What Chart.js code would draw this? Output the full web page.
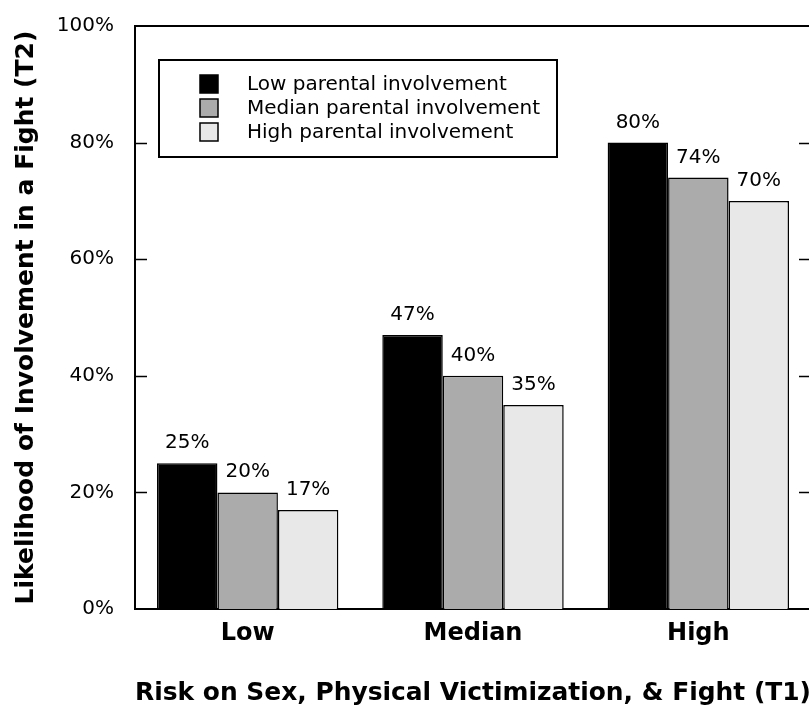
<!DOCTYPE html>
<html>
<head>
<meta charset="utf-8">
<script src="https://cdn.jsdelivr.net/npm/chart.js@4"></script>
<style>
  html, body { margin: 0; padding: 0; background: #fff; overflow: hidden; }
  #wrap { width: 815px; height: 708px; }
</style>
</head>
<body>
<div id="wrap"><canvas id="c" width="815" height="708"></canvas></div>
<script>
'use strict';

const categories = ['Low', 'Median', 'High'];
const lowInvolvement = [25, 47, 80];
const medianInvolvement = [20, 40, 74];
const highInvolvement = [17, 35, 70];
const seriesNames = ['Low parental involvement', 'Median parental involvement', 'High parental involvement'];
const seriesColors = ['#000000', '#ababab', '#e8e8e8'];
const yTicks = [0, 20, 40, 60, 80, 100];

const FONT = '"DejaVu Sans", "Liberation Sans", Arial, sans-serif';

// frame, inward tick marks, value labels and the boxed legend
const decor = {
    id: 'decor',
    afterDraw(chart) {
        const ctx = chart.ctx;
        const area = chart.chartArea;
        const y = chart.scales.y;
        ctx.save();
        ctx.strokeStyle = '#000';
        ctx.lineWidth = 2;
        ctx.beginPath();
        ctx.moveTo(area.left, area.top);
        ctx.lineTo(area.right, area.top);
        ctx.lineTo(area.right, area.bottom);
        ctx.stroke();

        ctx.lineWidth = 1.5;
        yTicks.slice(1, -1).forEach(v => {
            const py = Math.round(y.getPixelForValue(v)) + 0.5;
            ctx.beginPath();
            ctx.moveTo(area.left, py);
            ctx.lineTo(area.left + 12, py);
            ctx.moveTo(area.right, py);
            ctx.lineTo(area.right - 12, py);
            ctx.stroke();
        });

        ctx.fillStyle = '#000';
        ctx.font = '20px ' + FONT;
        ctx.textAlign = 'center';
        ctx.textBaseline = 'alphabetic';
        chart.data.datasets.forEach((ds, i) => {
            chart.getDatasetMeta(i).data.forEach((bar, j) => {
                ctx.fillText(ds.data[j] + '%', bar.x, bar.y - 15);
            });
        });

        // legend
        const lx = 159, ly = 60, lw = 398, lh = 97;
        ctx.fillStyle = '#fff';
        ctx.fillRect(lx, ly, lw, lh);
        ctx.lineWidth = 2;
        ctx.strokeRect(lx, ly, lw, lh);
        ctx.textAlign = 'left';
        ctx.textBaseline = 'middle';
        chart.data.datasets.forEach((ds, i) => {
            const cy = 84 + i * 24;
            ctx.fillStyle = ds.backgroundColor;
            ctx.fillRect(200, cy - 9, 18, 18);
            ctx.lineWidth = 1.5;
            ctx.strokeRect(200, cy - 9, 18, 18);
            ctx.fillStyle = '#000';
            ctx.fillText(ds.label, 247, cy + 1);
        });
        ctx.restore();
    }
};

const datasets = [lowInvolvement, medianInvolvement, highInvolvement].map((vals, i) => ({
    label: seriesNames[i],
    data: vals,
    backgroundColor: seriesColors[i],
    borderColor: '#000',
    borderWidth: 1.5,
    categoryPercentage: 0.805,
    barPercentage: 1.0
}));

new Chart(document.getElementById('c'), {
    type: 'bar',
    data: { labels: categories, datasets: datasets },
    plugins: [decor],
    options: {
        responsive: false,
        animation: false,
        layout: { padding: { top: 26, right: 4, left: 0, bottom: 0 } },
        plugins: { legend: { display: false }, tooltip: { enabled: false } },
        scales: {
            x: {
                grid: { display: false, drawTicks: false },
                border: { display: true, color: '#000', width: 2 },
                ticks: { color: '#000', font: { family: FONT, size: 24, weight: 'bold' }, padding: 10 },
                title: {
                    display: true,
                    text: 'Risk on Sex, Physical Victimization, & Fight (T1)',
                    color: '#000',
                    font: { family: FONT, size: 25, weight: 'bold' },
                    padding: { top: 0, bottom: 0 }
                },
                afterFit(s) { s.height = 99; }
            },
            y: {
                min: 0,
                max: 100,
                grid: { display: false, drawTicks: false },
                border: { display: true, color: '#000', width: 2 },
                afterBuildTicks(s) { s.ticks = yTicks.map(v => ({ value: v })); },
                ticks: {
                    color: '#000',
                    font: { family: FONT, size: 20 },
                    padding: 21,
                    callback: v => v + '%'
                },
                title: {
                    display: true,
                    text: 'Likelihood of Involvement in a Fight (T2)',
                    color: '#000',
                    font: { family: FONT, size: 25, weight: 'bold' },
                    padding: { top: 11, bottom: 0 }
                },
                afterFit(s) {
                    s.width = 135;
                    s.paddingTop = 0;
                    s.paddingBottom = 0;
                }
            }
        }
    }
});
</script>
</body>
</html>
